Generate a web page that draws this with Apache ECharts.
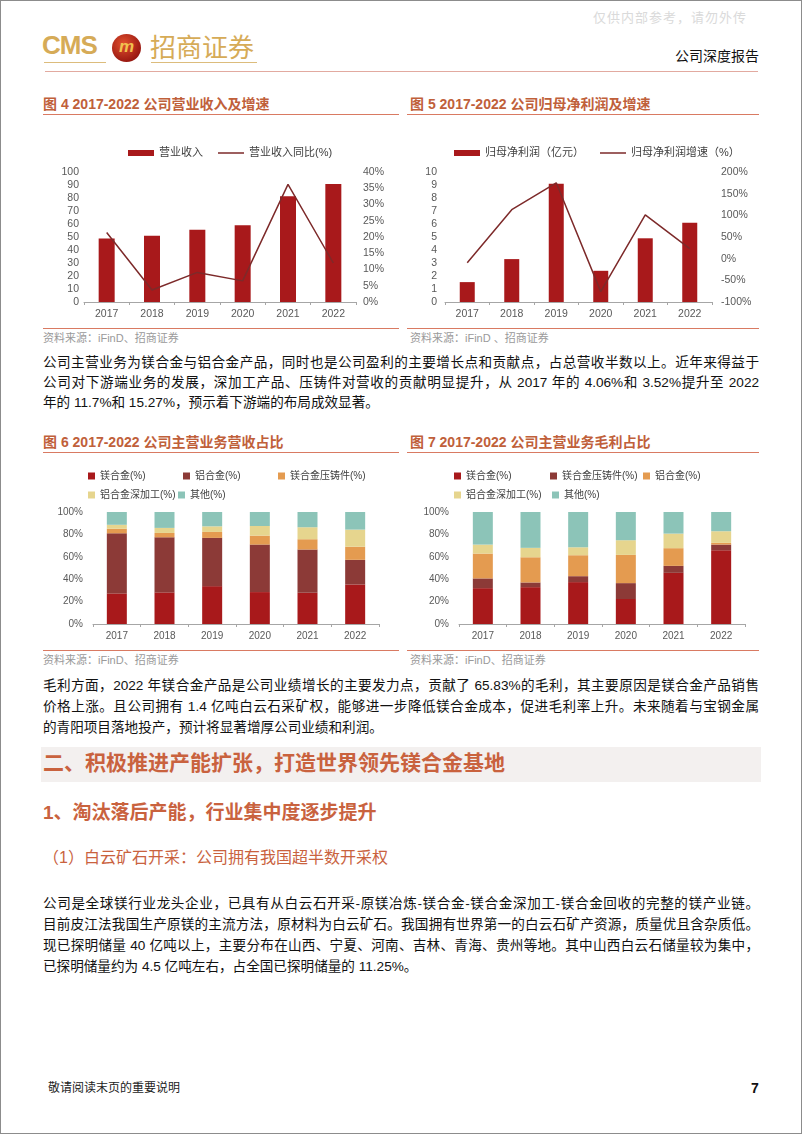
<!DOCTYPE html>
<html>
<head>
<meta charset="utf-8">
<script src="https://cdn.jsdelivr.net/npm/echarts@6/dist/echarts.min.js"></script>
<style>
    body {
        margin: 0;
        width: 802px;
        height: 1134px;
        position: relative;
        overflow: hidden;
        background: #fff;
        font-family: "Liberation Sans", "Noto Sans CJK SC", sans-serif;
    }
    .frame {
        position: absolute; left: 0; top: 0;
        width: 800px; height: 1132px;
        border: 1px solid #8c8c8c;
    }
    .abs { position: absolute; white-space: nowrap; }
    .txt {
        position: absolute; left: 43px; width: 716px;
        font-size: 13.6px; line-height: 20px; color: #111;
        text-align: justify; text-align-last: justify;
    }
    .txt.last { text-align-last: left; }
    .figtitle {
        position: absolute; font-size: 14px; font-weight: bold; color: #c0603a;
        line-height: 18px; white-space: nowrap;
    }
    .rule { position: absolute; height: 1px; background: #d97a62; }
    .src { position: absolute; font-size: 11px; color: #9a9a9a; line-height: 14px; white-space: nowrap; }
    .chart { position: absolute; }
</style>
</head>
<body>
<div class="frame"></div>

<!-- 页眉 -->
<div class="abs" style="left:593px;top:7px;font-size:13px;color:#dadada;letter-spacing:1px">仅供内部参考，请勿外传</div>
<div class="abs" style="left:42px;top:31px;font-size:26px;font-weight:bold;color:#d6ab57;letter-spacing:-1px;line-height:28px">CMS</div>
<div class="abs" style="left:112px;top:34px;width:29px;height:28px;border-radius:50%;background:radial-gradient(circle at 40% 35%,#e2502e,#9c1a12 70%,#6e0f0a);"></div>
<div class="abs" style="left:114px;top:37px;width:25px;text-align:center;font-size:17px;font-weight:bold;font-style:italic;color:#f1c24f;line-height:20px">m</div>
<div class="abs" style="left:150px;top:33px;font-size:26px;color:#d6ab57;line-height:30px">招商证券</div>
<div class="abs" style="left:44px;top:62px;width:62px;height:1px;background:#dcbc7c"></div>
<div class="abs" style="left:151px;top:62px;width:106px;height:1px;background:#dcbc7c"></div>
<div class="abs" style="left:675px;top:47px;font-size:14px;color:#111;line-height:18px">公司深度报告</div>
<div class="abs" style="left:45px;top:71px;width:713px;height:1px;background:#e2aaa0"></div>

<!-- 图 4 / 图 5 -->
<div class="figtitle" style="left:43px;top:95px">图 4 2017-2022 公司营业收入及增速</div>
<div class="rule" style="left:43px;top:114px;width:356px"></div>
<div class="figtitle" style="left:410px;top:95px">图 5 2017-2022 公司归母净利润及增速</div>
<div class="rule" style="left:407px;top:114px;width:352px"></div>
<div id="c1" class="chart" style="left:40px;top:125px;width:370px;height:200px"></div>
<div id="c2" class="chart" style="left:405px;top:125px;width:365px;height:200px"></div>
<div class="rule" style="left:43px;top:328px;width:356px"></div>
<div class="rule" style="left:407px;top:328px;width:352px"></div>
<div class="src" style="left:43px;top:331px">资料来源：iFinD、招商证券</div>
<div class="src" style="left:410px;top:331px">资料来源：iFinD 、招商证券</div>

<div class="txt" style="top:353px">公司主营业务为镁合金与铝合金产品，同时也是公司盈利的主要增长点和贡献点，占总营收半数以上。近年来得益于</div>
<div class="txt" style="top:373px">公司对下游端业务的发展，深加工产品、压铸件对营收的贡献明显提升，从 2017 年的 4.06%和 3.52%提升至 2022</div>
<div class="txt last" style="top:393px">年的 11.7%和 15.27%，预示着下游端的布局成效显著。</div>

<!-- 图 6 / 图 7 -->
<div class="figtitle" style="left:43px;top:433px">图 6 2017-2022 公司主营业务营收占比</div>
<div class="rule" style="left:43px;top:452px;width:356px"></div>
<div class="figtitle" style="left:410px;top:433px">图 7 2017-2022 公司主营业务毛利占比</div>
<div class="rule" style="left:407px;top:452px;width:352px"></div>
<div id="c3" class="chart" style="left:40px;top:455px;width:370px;height:195px"></div>
<div id="c4" class="chart" style="left:405px;top:455px;width:365px;height:195px"></div>
<div class="rule" style="left:43px;top:650px;width:356px"></div>
<div class="rule" style="left:407px;top:650px;width:352px"></div>
<div class="src" style="left:43px;top:653px">资料来源：iFinD、招商证券</div>
<div class="src" style="left:410px;top:653px">资料来源：iFinD、招商证券</div>

<div class="txt" style="top:676px">毛利方面，2022 年镁合金产品是公司业绩增长的主要发力点，贡献了 65.83%的毛利，其主要原因是镁合金产品销售</div>
<div class="txt" style="top:697px">价格上涨。且公司拥有 1.4 亿吨白云石采矿权，能够进一步降低镁合金成本，促进毛利率上升。未来随着与宝钢金属</div>
<div class="txt last" style="top:718px">的青阳项目落地投产，预计将显著增厚公司业绩和利润。</div>

<div class="abs" style="left:41px;top:747px;width:720px;height:35px;background:#f3f0ef"></div>
<div class="abs" style="left:43px;top:750px;font-size:21px;font-weight:bold;color:#c9623e;line-height:26px">二、积极推进产能扩张，打造世界领先镁合金基地</div>
<div class="abs" style="left:43px;top:801px;font-size:19px;font-weight:bold;color:#c9623e;line-height:24px">1、淘汰落后产能，行业集中度逐步提升</div>
<div class="abs" style="left:43px;top:848px;font-size:16px;color:#c9623e;line-height:20px">（1）白云矿石开采：公司拥有我国超半数开采权</div>

<div class="txt" style="top:894px">公司是全球镁行业龙头企业，已具有从白云石开采-原镁冶炼-镁合金-镁合金深加工-镁合金回收的完整的镁产业链。</div>
<div class="txt" style="top:915px">目前皮江法我国生产原镁的主流方法，原材料为白云矿石。我国拥有世界第一的白云石矿产资源，质量优且含杂质低。</div>
<div class="txt" style="top:936px">现已探明储量 40 亿吨以上，主要分布在山西、宁夏、河南、吉林、青海、贵州等地。其中山西白云石储量较为集中，</div>
<div class="txt last" style="top:957px">已探明储量约为 4.5 亿吨左右，占全国已探明储量的 11.25%。</div>

<!-- 页脚 -->
<div class="abs" style="left:48px;top:1080px;font-size:12px;color:#222;line-height:16px">敬请阅读末页的重要说明</div>
<div class="abs" style="left:751px;top:1079px;font-size:14px;font-weight:bold;color:#111;line-height:18px">7</div>

<script>
    const years = ['2017', '2018', '2019', '2020', '2021', '2022'];

    // 图4 营业收入（亿元）及同比（%）
    const revenue = [48.9, 50.9, 55.5, 59.0, 81.3, 90.8];
    const revenueYoy = [21.4, 3.7, 9.1, 6.5, 36.2, 12.0];

    // 图5 归母净利润（亿元）及增速（%）
    const netProfit = [1.53, 3.3, 9.1, 2.4, 4.9, 6.09];
    const netProfitYoy = [-9.4, 113, 175, -76, 101, 23];

    // 图6 主营业务营收占比（%）
    const revMg = [27.3, 28.2, 33.8, 28.5, 27.9, 35.3];
    const revAl = [53.7, 49.2, 43.1, 42.4, 38.6, 22.0];
    const revMgCast = [4.06, 3.9, 5.3, 8.0, 9.2, 11.7];
    const revAlDeep = [3.52, 4.5, 5.0, 8.6, 10.7, 15.27];
    const revOther = [11.42, 14.2, 12.8, 12.5, 13.6, 15.73];

    // 图7 主营业务毛利占比（%）
    const gpMg = [32.0, 32.9, 37.4, 22.3, 45.7, 65.83];
    const gpMgCast = [8.7, 4.2, 5.3, 14.2, 6.2, 5.1];
    const gpAl = [22.2, 22.5, 18.7, 25.2, 15.8, 1.5];
    const gpAlDeep = [8.0, 8.4, 7.1, 13.1, 13.0, 10.4];
    const gpOther = [29.1, 32.0, 31.5, 25.2, 19.3, 17.17];

    const FONT = "'Liberation Sans','Noto Sans CJK SC',sans-serif";
    const RED = '#a8191b', BROWN = '#8c3a37', ORANGE = '#e49b50',
        YELLOW = '#e6d58e', TEAL = '#8cc4b8', LINE = '#7d2a2a';
    const AXIS = '#a6a6a6', LABEL = '#595959';

    function xAxisOpt(size, margin) {
        return {
            type: 'category',
            data: years,
            axisLine: { lineStyle: { color: AXIS } },
            axisTick: { show: true, length: 3, lineStyle: { color: AXIS } },
            axisLabel: { color: LABEL, fontSize: size, fontFamily: FONT, margin: margin }
        };
    }

    function valueAxis(min, max, interval, margin, size, fmt) {
        return {
            type: 'value', min: min, max: max, interval: interval,
            splitLine: { show: false },
            axisLine: { show: false }, axisTick: { show: false },
            axisLabel: { color: LABEL, fontSize: size, fontFamily: FONT, margin: margin, formatter: fmt }
        };
    }

    // 柱+折线双轴图
    function comboChart(el, c) {
        const chart = echarts.init(document.getElementById(el));
        const legendText = { color: '#404040', fontSize: 11, fontFamily: FONT, lineHeight: 14 };
        chart.setOption({
            animation: false,
            textStyle: { fontFamily: FONT },
            legend: [
                { data: [{ name: c.barName, icon: 'rect' }], left: c.legendLeft[0], top: 16,
                  itemWidth: 26, itemHeight: 6, textStyle: legendText },
                { data: [{ name: c.lineName, icon: 'path://M0 0H26V1.5H0Z' }], left: c.legendLeft[1], top: 16,
                  itemWidth: 26, itemHeight: 6, textStyle: legendText }
            ],
            grid: c.grid,
            xAxis: xAxisOpt(10.5, 7),
            yAxis: [
                valueAxis(c.left[0], c.left[1], c.left[2], c.marginL, 10.5, '{value}'),
                valueAxis(c.right[0], c.right[1], c.right[2], c.marginR, 10.5, '{value}%')
            ],
            series: [
                { name: c.barName, type: 'bar', data: c.bars, barWidth: c.barWidth,
                  itemStyle: { color: RED } },
                { name: c.lineName, type: 'line', yAxisIndex: 1, data: c.line, symbol: 'none',
                  lineStyle: { color: LINE, width: 1.5 }, itemStyle: { color: LINE } }
            ]
        });
    }

    // 百分比堆积柱图
    function stackChart(el, names, datas, colors, grid, pos) {
        const chart = echarts.init(document.getElementById(el));
        chart.setOption({
            animation: false,
            textStyle: { fontFamily: FONT },
            legend: names.map(function (n, i) {
                return {
                    data: [n], icon: 'rect', itemWidth: 7, itemHeight: 7,
                    left: pos[i][0], top: pos[i][1],
                    textStyle: { color: '#404040', fontSize: 10, fontFamily: FONT, lineHeight: 14 }
                };
            }),
            grid: grid,
            xAxis: xAxisOpt(10, 7),
            yAxis: valueAxis(0, 100, 20, 10, 10, '{value}%'),
            series: names.map(function (n, i) {
                return { name: n, type: 'bar', stack: 'total', data: datas[i], barWidth: 20,
                         itemStyle: { color: colors[i] } };
            })
        });
    }

    comboChart('c1', {
        barName: '营业收入', lineName: '营业收入同比(%)',
        bars: revenue, line: revenueYoy,
        left: [0, 100, 10], right: [0, 40, 5],
        grid: { left: 44, right: 54, top: 47, bottom: 23 },
        legendLeft: [83, 173], barWidth: 16, marginL: 5, marginR: 7
    });

    comboChart('c2', {
        barName: '归母净利润（亿元）', lineName: '归母净利润增速（%）',
        bars: netProfit, line: netProfitYoy,
        left: [0, 10, 1], right: [-100, 200, 50],
        grid: { left: 40, right: 58, top: 47, bottom: 23 },
        legendLeft: [44, 190], barWidth: 15, marginL: 8, marginR: 9
    });

    stackChart('c3',
        ['镁合金(%)', '铝合金(%)', '镁合金压铸件(%)', '铝合金深加工(%)', '其他(%)'],
        [revMg, revAl, revMgCast, revAlDeep, revOther],
        [RED, BROWN, ORANGE, YELLOW, TEAL],
        { left: 53, right: 31, top: 57, bottom: 26 },
        [[43, 9], [138, 9], [233, 9], [43, 28], [133, 28]]);

    stackChart('c4',
        ['镁合金(%)', '镁合金压铸件(%)', '铝合金(%)', '铝合金深加工(%)', '其他(%)'],
        [gpMg, gpMgCast, gpAl, gpAlDeep, gpOther],
        [RED, BROWN, ORANGE, YELLOW, TEAL],
        { left: 54, right: 25, top: 57, bottom: 26 },
        [[44, 9], [140, 9], [233, 9], [44, 28], [142, 28]]);
</script>
</body>
</html>
